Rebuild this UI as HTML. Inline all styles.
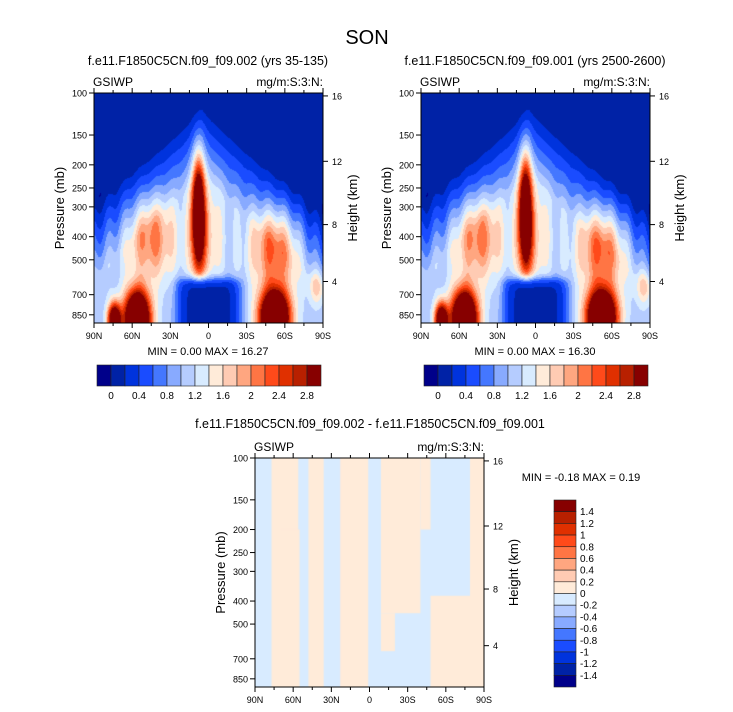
<!DOCTYPE html>
<html><head><meta charset="utf-8">
<style>
html,body{margin:0;padding:0;background:#fff;}
#root{position:relative;width:733px;height:712px;overflow:hidden;font-family:"Liberation Sans",sans-serif;}
canvas{position:absolute;}
svg{position:absolute;left:0;top:0;}
</style></head>
<body>
<div id="root">
<canvas id="c1" width="229" height="230" style="left:94px;top:93px"></canvas>
<canvas id="c2" width="229" height="230" style="left:421px;top:93px"></canvas>
<canvas id="c3" width="229" height="229" style="left:255px;top:458px"></canvas>
<svg id="s" width="733" height="712"></svg>
</div>
<script>
// ---- data ----
const levelColors = ["#00008a","#0022a6","#0033dd","#1a4cff","#4477ff","#88aaff","#b5ccff","#d8ebff","#ffebd9","#ffcbb3","#ffa680","#ff7544","#ff4a1a","#e03000","#b82000","#870000"];
const topCbLabels = ["0","0.4","0.8","1.2","1.6","2","2.4","2.8"];
const diffCbLabels = ["1.4","1.2","1","0.8","0.6","0.4","0.2","0","-0.2","-0.4","-0.6","-0.8","-1","-1.2","-1.4"];
const latTicks = [90,60,30,0,-30,-60,-90];
const latTickLabels = ["90N","60N","30N","0","30S","60S","90S"];
const presTicks = [100,150,200,250,300,400,500,700,850];
const kmTicks = [4,8,12,16];
// blobs: lat, pressure(mb), lat width, log-p width, amplitude
const blobLat = [8, 3, 45, -52, 56, 74, -52, -85];
const blobP   = [320, 400, 410, 450, 880, 900, 880, 650];
const blobSL  = [3.4, 9, 13, 13, 7, 3.5, 8, 4];
const blobSZ  = [0.16, 0.16, 0.12, 0.12, 0.08, 0.05, 0.08, 0.05];
const blobAmp = [2.9, 0.7, 1.0, 1.15, 4.0, 3.0, 4.2, 0.6];
const leftMinMax = ["0.00","16.27"];
const rightMinMax = ["0.00","16.30"];
const diffMinMax = ["-0.18","0.19"];
// positive-difference regions: lat1, lat2, pTop, pBottom
const diffLat1 = [77, 70, 48, 23, -9, -9, -40, -48, -79];
const diffLat2 = [56, 55, 36, 1, -40, -20, -48, -79, -90];
const diffPTop = [100, 200, 100, 100, 100, 450, 100, 380, 100];
const diffPBot = [920, 920, 920, 920, 450, 650, 200, 920, 920];

// ---- helpers ----
const NS="http://www.w3.org/2000/svg";
const svg=document.getElementById('s');
function el(tag,attrs,parent){const e=document.createElementNS(NS,tag);for(const k in attrs)e.setAttribute(k,attrs[k]);(parent||svg).appendChild(e);return e;}
function txt(x,y,s,size,anchor,name,rot){const t=el('text',{x:x,y:y,'font-size':size,'text-anchor':anchor||'middle',fill:'#000','font-family':'Liberation Sans, sans-serif'});if(rot)t.setAttribute('transform',`rotate(-90 ${x} ${y})`);t.textContent=s;


return t;}
const PBOT=Math.log10(920);
function yOfP(p,h){return (Math.log10(p)-2)/(PBOT-2)*h;}
function xOfLat(lat,w){return (90-lat)/180*w;}
function pOfKm(z){const m=z*1000;if(m<11000)return 1013.25*Math.pow(1-2.2558e-5*m,5.2559);return 226.3*Math.exp(-(m-11000)/6341.6);}
function blob(i,lat,lz){const dl=(lat-blobLat[i])/blobSL[i], dz=(lz-Math.log10(blobP[i]))/blobSZ[i];return blobAmp[i]*Math.exp(-0.5*(dl*dl+dz*dz));}
function field(lat,lz){
  let top=2.04+0.44*Math.abs(lat-5)/90;
  let e=1.05*Math.min(1,Math.max(0,(lz-top)/0.32));
  let v=e;
  for(let i=0;i<4;i++)v+=blob(i,lat,lz);
  v+=0.12*Math.sin(lat*0.5)*Math.exp(-Math.pow((lz-2.6)/0.2,2));
  const hole=Math.exp(-Math.pow(lat/26,6))/(1+Math.exp(-(lz-2.78)/0.012));
  v=v*(1-hole)+0.08*hole;
  for(let i=4;i<blobLat.length;i++)v+=blob(i,lat,lz);
  return v+0.05;
}
function colorIdx(v){return Math.max(0,Math.min(15,Math.floor(v/0.2)+1));}
function drawField(id,scale){
  const c=document.getElementById(id),g=c.getContext('2d');const w=c.width,h=c.height;
  for(let j=0;j<h;j++){const lz=2+(j+0.5)/h*(PBOT-2);
    for(let i=0;i<w;i++){const lat=90-(i+0.5)/w*180;
      g.fillStyle=levelColors[colorIdx(field(lat,lz)*scale)];g.fillRect(i,j,1,1);}}
}
drawField('c1',1.0);drawField('c2',1.003);
(function(){const c=document.getElementById('c3'),g=c.getContext('2d');const w=c.width,h=c.height;
  g.fillStyle='#d8ebff';g.fillRect(0,0,w,h);g.fillStyle='#ffebd9';
  for(let k=0;k<diffLat1.length;k++){const x1=xOfLat(diffLat1[k],w),x2=xOfLat(diffLat2[k],w);
    const y1=yOfP(diffPTop[k],h),y2=yOfP(diffPBot[k],h);g.fillRect(x1,y1,x2-x1,y2-y1);}})();

function axes(X,Y,W,H,pfx){
  el('rect',{x:X,y:Y,width:W,height:H,fill:'none',stroke:'#000','stroke-width':1});
  for(let k=0;k<=12;k++){const x=X+k*W/12;const major=k%2==0;const L=major?5:3;
    el('line',{x1:x,y1:Y+H,x2:x,y2:Y+H+L,stroke:'#000'});el('line',{x1:x,y1:Y,x2:x,y2:Y-L,stroke:'#000'});}
  latTicks.forEach((lat,i)=>txt(X+xOfLat(lat,W),Y+H+16,latTickLabels[i],9,'middle',pfx+'-x-tick-label'));
  presTicks.forEach(p=>{const y=Y+yOfP(p,H);el('line',{x1:X-5,y1:y,x2:X,y2:y,stroke:'#000'});txt(X-7,y+3.5,String(p),9,'end',pfx+'-y-tick-label');});
  kmTicks.forEach(z=>{const y=Y+yOfP(pOfKm(z),H);el('line',{x1:X+W,y1:y,x2:X+W+5,y2:y,stroke:'#000'});txt(X+W+9,y+3.5,String(z),9,'start',pfx+'-height-tick-label');});
  txt(X-30,Y+H/2,'Pressure (mb)',13,'middle',pfx+'-y-axis-title',true);
  txt(X+W+34,Y+H/2,'Height (km)',13,'middle',pfx+'-height-axis-title',true);
  txt(X-1,Y-7,'GSIWP',12,'start',pfx+'-variable-label');
  txt(X+W,Y-7,'mg/m:S:3:N:',12,'end',pfx+'-units-label');
}
function hcb(X,Y,W,H,pfx){const bw=W/16;
  levelColors.forEach((c,i)=>{const r=el('rect',{x:X+i*bw,y:Y,width:bw,height:H,fill:c,stroke:'#222','stroke-width':0.6});
    
    });
  topCbLabels.forEach((s,i)=>txt(X+(1+2*i)*bw,Y+H+13,s,10,'middle',pfx+'-colorbar-label'));}
txt(367,44,'SON',20,'middle','main-title');
txt(208,65,'f.e11.F1850C5CN.f09_f09.002 (yrs 35-135)',12.5,'middle','left-panel-title');
txt(535,65,'f.e11.F1850C5CN.f09_f09.001 (yrs 2500-2600)',12.5,'middle','right-panel-title');
axes(94,93,229,230,'left');axes(421,93,229,230,'right');axes(255,458,229,229,'diff');
txt(208,355,`MIN =  ${leftMinMax[0]}   MAX = ${leftMinMax[1]}`,11,'middle','left-min-max');
txt(535,355,`MIN =  ${rightMinMax[0]}   MAX = ${rightMinMax[1]}`,11,'middle','right-min-max');
hcb(97,365,224,21,'left');hcb(424,365,224,21,'right');
txt(370,428,'f.e11.F1850C5CN.f09_f09.002 - f.e11.F1850C5CN.f09_f09.001',12.5,'middle','diff-panel-title');
txt(581,481,`MIN = ${diffMinMax[0]}  MAX =  ${diffMinMax[1]}`,11,'middle','diff-min-max');
(function(){const X=554,Y=500,W=22,H=187,bh=H/16;
  for(let i=0;i<16;i++){const r=el('rect',{x:X,y:Y+i*bh,width:W,height:bh,fill:levelColors[15-i],stroke:'#222','stroke-width':0.6});
    
    }
  diffCbLabels.forEach((s,i)=>txt(X+W+4,Y+(i+1)*bh+3.5,s,10,'start','diff-colorbar-label'));})();
</script>
</body></html>
